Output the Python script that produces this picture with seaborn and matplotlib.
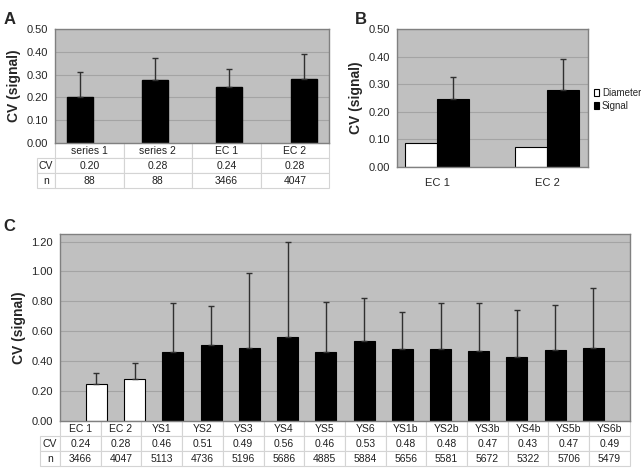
import numpy as np
import pandas as pd
import matplotlib
matplotlib.use("Agg")
import matplotlib.pyplot as plt
import seaborn as sns

# Panel A
a_cats = ["series 1", "series 2", "EC 1", "EC 2"]
a_cv = [0.20, 0.275, 0.245, 0.28]
a_err = [0.11, 0.10, 0.08, 0.11]
a_cv_lbl = ["0.20", "0.28", "0.24", "0.28"]
a_n = ["88", "88", "3466", "4047"]

# Panel B
b_cats = ["EC 1", "EC 2"]
b_diam = [0.087, 0.074]
b_signal = [0.245, 0.28]
b_signal_err = [0.08, 0.11]

# Panel C
c_cats = ["EC 1", "EC 2", "YS1", "YS2", "YS3", "YS4", "YS5", "YS6",
          "YS1b", "YS2b", "YS3b", "YS4b", "YS5b", "YS6b"]
c_cv = [0.245, 0.28, 0.46, 0.51, 0.49, 0.56, 0.465, 0.535,
        0.48, 0.48, 0.47, 0.43, 0.475, 0.49]
c_err = [0.08, 0.11, 0.33, 0.26, 0.50, 0.64, 0.33, 0.29,
         0.25, 0.31, 0.32, 0.31, 0.30, 0.40]
c_cv_lbl = ["0.24", "0.28", "0.46", "0.51", "0.49", "0.56", "0.46", "0.53",
            "0.48", "0.48", "0.47", "0.43", "0.47", "0.49"]
c_n = ["3466", "4047", "5113", "4736", "5196", "5686", "4885", "5884",
       "5656", "5581", "5672", "5322", "5706", "5479"]

sns.set_style("white")
plt.rcParams['font.family'] = ['Liberation Sans', 'DejaVu Sans']

BG = "#c0c0c0"
GRID = "#a4a4a4"
FRAME = "#808080"

fig = plt.figure(figsize=(6.41, 4.69), dpi=100)


def style_axes(ax, ymax, step):
    ax.set_facecolor(BG)
    ax.set_ylim(0, ymax)
    ax.set_yticks(np.arange(0, ymax + 1e-9, step))
    ax.yaxis.set_major_formatter(matplotlib.ticker.FormatStrFormatter("%.2f"))
    ax.yaxis.grid(True, color=GRID, linewidth=0.8)
    ax.set_axisbelow(True)
    for s in ax.spines.values():
        s.set_color(FRAME)
        s.set_linewidth(1)
    ax.tick_params(axis="y", labelsize=8, length=3, color=FRAME, pad=2)
    ax.set_ylabel("CV (signal)", fontsize=10, fontweight="bold")
    ax.set_xlabel("")


def add_table(ax, cats, cv, n, h_frac, lw_frac, fs=7.5):
    rows = [[""] + list(cats), ["CV"] + list(cv), ["n"] + list(n)]
    k = len(cats)
    widths = [lw_frac] + [1.0 / k] * k
    tbl = ax.table(cellText=rows, colWidths=widths, cellLoc="center",
                   bbox=[-lw_frac, -h_frac, 1 + lw_frac, h_frac])
    tbl.auto_set_font_size(False)
    tbl.set_fontsize(fs)
    for (r, c), cell in tbl.get_celld().items():
        cell.set_edgecolor("#d4d4d4")
        cell.set_linewidth(0.8)
        cell.get_text().set_color("#202020")
        if r == 0 and c == 0:
            cell.visible_edges = ""
    return tbl


# ---- Panel A ----
axA = fig.add_axes([0.0858, 0.695, 0.4275, 0.243])
dfA = pd.DataFrame({"cat": a_cats, "cv": a_cv})
sns.barplot(data=dfA, x="cat", y="cv", color="black", width=0.35,
            errorbar=None, edgecolor="black", ax=axA)
axA.errorbar(np.arange(len(a_cats)), a_cv, yerr=[np.zeros(len(a_err)), a_err],
             fmt="none", ecolor="#303030", elinewidth=1, capsize=2)
style_axes(axA, 0.5, 0.1)
axA.tick_params(axis="x", length=0, labelbottom=False)
add_table(axA, a_cats, a_cv_lbl, a_n, 0.395, 0.066)

# ---- Panel B ----
axB = fig.add_axes([0.619, 0.644, 0.298, 0.294])
dfB = pd.DataFrame({
    "cat": b_cats * 2,
    "kind": ["Diameter"] * 2 + ["Signal"] * 2,
    "cv": b_diam + b_signal,
})
sns.barplot(data=dfB, x="cat", y="cv", hue="kind",
            palette={"Diameter": "white", "Signal": "black"},
            width=0.58, errorbar=None, edgecolor="black", linewidth=0.8, ax=axB)
axB.errorbar(np.arange(len(b_cats)) + 0.58 / 4, b_signal,
             yerr=[np.zeros(len(b_signal_err)), b_signal_err],
             fmt="none", ecolor="#303030", elinewidth=1, capsize=2)
style_axes(axB, 0.5, 0.1)
axB.tick_params(axis="x", length=0, labelsize=8, pad=8)
leg = axB.legend(loc="center left", bbox_to_anchor=(1.03, 0.49), frameon=False,
                 fontsize=7, handlelength=0.6, handleheight=0.6,
                 handletextpad=0.25, labelspacing=0.3, borderaxespad=0,
                 borderpad=0)

# ---- Panel C ----
axC = fig.add_axes([0.0936, 0.102, 0.889, 0.399])
dfC = pd.DataFrame({"cat": c_cats, "cv": c_cv})
c_pal = {c: ("white" if c.startswith("EC") else "black") for c in c_cats}
sns.barplot(data=dfC, x="cat", y="cv", hue="cat", palette=c_pal, legend=False,
            width=0.55, errorbar=None, edgecolor="black", linewidth=0.8, ax=axC)
axC.errorbar(np.arange(len(c_cats)), c_cv, yerr=[np.zeros(len(c_err)), c_err],
             fmt="none", ecolor="#303030", elinewidth=1, capsize=2)
style_axes(axC, 1.25, 0.2)
axC.set_yticks(np.arange(0, 1.21, 0.2))
axC.tick_params(axis="x", length=0, labelbottom=False)
add_table(axC, c_cats, c_cv_lbl, c_n, 0.24, 0.035)

# panel letters
fig.text(0.005, 0.975, "A", fontsize=12, fontweight="bold", va="top")
fig.text(0.553, 0.975, "B", fontsize=12, fontweight="bold", va="top")
fig.text(0.005, 0.532, "C", fontsize=12, fontweight="bold", va="top")

fig.savefig("out.png", dpi=100)
